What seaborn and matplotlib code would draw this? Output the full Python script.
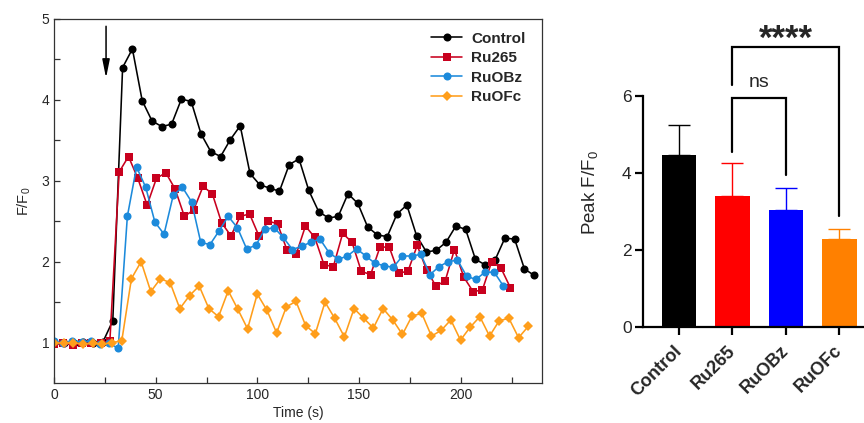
import numpy as np
import pandas as pd
import matplotlib
matplotlib.use('Agg')
import matplotlib.pyplot as plt
import seaborn as sns
from matplotlib.ticker import FixedLocator

sns.set_theme(style='white')
plt.rcParams['font.family'] = ['Liberation Sans', 'DejaVu Sans']
plt.rcParams['mathtext.default'] = 'regular'

# ---------------- data: time course ----------------
series_names = ['Control', 'Ru265', 'RuOBz', 'RuOFc']
sample_interval = [4.82, 4.58, 4.51, 4.76]  # seconds between frames

control = [1.00, 0.99, 1.00, 1.01, 1.00, 1.01, 1.27, 4.40, 4.63, 3.99,
           3.74, 3.67, 3.70, 4.01, 3.98, 3.58, 3.36, 3.30, 3.51, 3.68,
           3.09, 2.95, 2.91, 2.87, 3.20, 3.27, 2.88, 2.62, 2.54, 2.56,
           2.84, 2.72, 2.43, 2.33, 2.31, 2.59, 2.70, 2.32, 2.12, 2.14,
           2.24, 2.44, 2.40, 2.03, 1.96, 2.02, 2.29, 2.28, 1.91, 1.83]
ru265 = [0.98, 0.99, 0.97, 0.99, 0.99, 1.00, 1.02, 3.11, 3.30, 3.03,
         2.70, 3.03, 3.10, 2.90, 2.56, 2.64, 2.93, 2.84, 2.48, 2.32,
         2.56, 2.59, 2.32, 2.50, 2.47, 2.15, 2.09, 2.44, 2.30, 1.96,
         1.94, 2.35, 2.24, 1.88, 1.84, 2.18, 2.18, 1.86, 1.88, 2.20,
         1.90, 1.70, 1.76, 2.15, 1.81, 1.63, 1.65, 2.00, 1.92, 1.68]
ruobz = [1.02, 0.99, 1.02, 1.01, 1.02, 0.98, 0.99, 0.93, 2.56, 3.17,
         2.92, 2.49, 2.34, 2.82, 2.92, 2.74, 2.24, 2.21, 2.38, 2.56,
         2.42, 2.16, 2.20, 2.40, 2.42, 2.30, 2.15, 2.19, 2.24, 2.28,
         2.11, 2.03, 2.07, 2.16, 2.07, 1.98, 1.95, 1.93, 2.07, 2.07,
         2.09, 1.84, 1.94, 2.00, 2.02, 1.82, 1.78, 1.87, 1.87, 1.70]
ruofc = [1.00, 0.99, 1.00, 0.98, 0.99, 0.98, 1.00, 1.02, 1.79, 2.00,
         1.63, 1.79, 1.74, 1.42, 1.58, 1.70, 1.42, 1.32, 1.64, 1.41,
         1.17, 1.60, 1.40, 1.12, 1.44, 1.51, 1.21, 1.11, 1.50, 1.30,
         1.07, 1.42, 1.30, 1.18, 1.42, 1.28, 1.10, 1.33, 1.36, 1.08,
         1.15, 1.28, 1.03, 1.19, 1.32, 1.08, 1.27, 1.30, 1.06, 1.20]
series_values = [control, ru265, ruobz, ruofc]

# ---------------- data: peak bar chart ----------------
groups = ['Control', 'Ru265', 'RuOBz', 'RuOFc']
peak_mean = [4.47, 3.41, 3.05, 2.28]
peak_err = [0.76, 0.84, 0.56, 0.27]

# ---------------- styles ----------------
line_colors = ['#000000', '#C8001E', '#1C8ADB', '#FF9E1B']
line_markers = ['o', 's', 'o', 'D']
marker_sizes = [5.8, 5.4, 5.8, 4.6]
bar_colors = ['#000000', '#FF0000', '#0000FF', '#FF8000']

fig = plt.figure(figsize=(8.64, 4.23), dpi=100)

# ================= left: time course =================
ax = fig.add_axes([54/864, 1-383/423, (542-54)/864, (383-19)/423])
for name, vals, dt, col, mk, ms in zip(series_names, series_values, sample_interval,
                                       line_colors, line_markers, marker_sizes):
    df = pd.DataFrame({'Time': dt*np.arange(len(vals)), 'F': vals})
    sns.lineplot(data=df, x='Time', y='F', color=col, marker=mk, markersize=ms,
                 markeredgewidth=0, linewidth=1.15, label=name, ax=ax)

ax.set_xlim(0, 240)
ax.set_ylim(0.5, 5)
ax.xaxis.set_major_locator(FixedLocator([0, 50, 100, 150, 200]))
ax.xaxis.set_minor_locator(FixedLocator([25, 75, 125, 175, 225]))
ax.yaxis.set_major_locator(FixedLocator([1, 2, 3, 4, 5]))
ax.yaxis.set_minor_locator(FixedLocator([1.5, 2.5, 3.5, 4.5]))
ax.tick_params(which='both', direction='in', length=4, width=0.9, color='#333333',
               labelsize=10, bottom=True, left=True, top=False, right=False)
for s in ax.spines.values():
    s.set_color('#333333')
    s.set_linewidth(0.9)
ax.set_xlabel('Time (s)', fontsize=10, labelpad=3)
ax.set_ylabel('F/F$_0$', fontsize=10.5, labelpad=6)

ax.annotate('', xy=(25.6, 4.27), xytext=(25.6, 4.91),
            arrowprops=dict(arrowstyle='-|>,head_length=0.55,head_width=0.11',
                            color='black', lw=1.1, mutation_scale=20,
                            shrinkA=0, shrinkB=0))

leg = ax.legend(loc='upper right', bbox_to_anchor=(0.985, 0.99), frameon=False,
                prop={'weight': 'bold', 'size': 11}, handlelength=2.0,
                handletextpad=0.6, labelspacing=0.35, borderaxespad=0.2)

# ================= right: peak bars =================
ax2 = fig.add_axes([642.7/864, 1-327.3/423, 1-642.7/864, (327.3-95.7)/423])
sns.barplot(x=groups, y=peak_mean, hue=groups, palette=bar_colors, width=0.645,
            saturation=1, legend=False, linewidth=0, ax=ax2)
for i, (m, e, c) in enumerate(zip(peak_mean, peak_err, bar_colors)):
    ax2.errorbar(i, m, yerr=[[0], [e]], fmt='none', ecolor=c, elinewidth=1.0,
                 capsize=7.8, capthick=1.0)

ax2.set_xlim(-0.675, 3.46)
ax2.set_ylim(0, 6)
ax2.set_yticks([0, 2, 4, 6])
sns.despine(ax=ax2)
for s in ['left', 'bottom']:
    ax2.spines[s].set_linewidth(1.6)
    ax2.spines[s].set_color('black')
ax2.tick_params(axis='both', direction='out', length=6, width=1.6, color='black',
                left=True, bottom=True)
ax2.tick_params(axis='y', labelsize=12.5, pad=2)
ax2.tick_params(axis='x', pad=9)
for lab in ax2.get_xticklabels():
    lab.set_rotation(45)
    lab.set_ha('right')
    lab.set_va('center')
    lab.set_rotation_mode('anchor')
    lab.set_fontweight('bold')
    lab.set_fontsize(13)
ax2.set_xlabel('')
ax2.set_ylabel('Peak F/F$_0$', fontsize=13.5)
ax2.yaxis.set_label_coords(-0.195, 0.58)

# significance brackets
ax2.plot([1, 1, 2, 2], [4.55, 5.95, 5.95, 3.95], color='black', lw=1.6, clip_on=False,
         solid_joinstyle='miter')
ax2.text(1.5, 6.22, 'ns', ha='center', va='baseline', fontsize=14)
ax2.plot([1, 1, 3, 3], [6.28, 7.25, 7.25, 2.88], color='black', lw=1.6, clip_on=False,
         solid_joinstyle='miter')
ax2.text(2.0, 7.47, '****', ha='center', va='center', fontsize=25, fontweight='bold')

fig.savefig('out.png', dpi=100)
